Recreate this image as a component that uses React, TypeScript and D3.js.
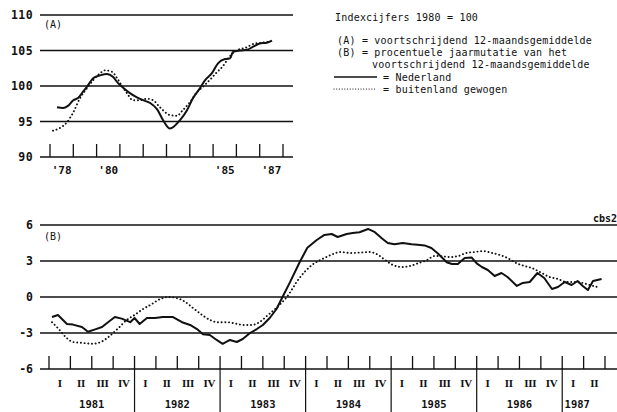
import * as d3 from "d3";

// (A) index 1980 = 100, moving 12-month average
const topNLYears = [1978.3, 1978.56, 1978.77, 1979.0, 1979.2, 1979.42, 1979.63, 1979.85, 1980.15, 1980.45, 1980.7, 1980.92, 1981.13, 1981.43, 1981.73, 1982.0, 1982.3, 1982.6, 1982.85, 1983.15, 1983.58, 1983.88, 1984.14, 1984.44, 1984.65, 1984.95, 1985.21, 1985.51, 1985.73, 1985.85, 1986.15, 1986.45, 1986.7, 1987.0, 1987.3, 1987.53];
const topNL = [97.0, 96.9, 97.2, 98.0, 98.3, 99.2, 100.1, 101.1, 101.5, 101.7, 101.3, 100.4, 99.8, 99.0, 98.4, 98.0, 97.6, 96.7, 95.2, 94.0, 95.2, 96.6, 98.3, 99.7, 100.8, 101.8, 103.2, 103.8, 103.9, 104.8, 105.0, 105.1, 105.5, 106.0, 106.1, 106.4];

const topBLYears = [1978.13, 1978.43, 1978.73, 1979.0, 1979.29, 1979.59, 1979.85, 1980.15, 1980.36, 1980.66, 1980.88, 1981.09, 1981.3, 1981.56, 1981.86, 1982.16, 1982.42, 1982.72, 1983.15, 1983.45, 1983.7, 1984.0, 1984.3, 1984.6, 1984.9, 1985.15, 1985.4, 1985.7, 1986.0, 1986.4, 1986.8, 1987.1, 1987.35];
const topBL = [93.7, 94.1, 94.9, 96.3, 98.3, 99.7, 100.8, 101.8, 102.2, 102.0, 101.1, 100.0, 99.0, 98.0, 98.0, 98.2, 98.0, 97.0, 95.9, 95.8, 96.6, 97.7, 99.1, 100.0, 101.0, 101.9, 102.7, 104.1, 105.0, 105.4, 106.0, 106.1, 106.2];

// (B) year-on-year % change
const botNLYears = [1981.035, 1981.105, 1981.21, 1981.28, 1981.385, 1981.455, 1981.54, 1981.62, 1981.69, 1981.77, 1981.85, 1981.95, 1982.0, 1982.06, 1982.145, 1982.24, 1982.33, 1982.45, 1982.555, 1982.65, 1982.73, 1982.8, 1982.88, 1982.96, 1983.03, 1983.115, 1983.195, 1983.265, 1983.35, 1983.43, 1983.5, 1983.58, 1983.66, 1983.73, 1983.815, 1983.93, 1984.02, 1984.13, 1984.22, 1984.305, 1984.375, 1984.48, 1984.55, 1984.63, 1984.73, 1984.81, 1984.89, 1984.96, 1985.04, 1985.135, 1985.24, 1985.31, 1985.39, 1985.47, 1985.54, 1985.65, 1985.71, 1985.78, 1985.86, 1985.94, 1986.0, 1986.06, 1986.13, 1986.21, 1986.29, 1986.36, 1986.47, 1986.54, 1986.62, 1986.71, 1986.79, 1986.88, 1986.95, 1987.03, 1987.11, 1987.18, 1987.24, 1987.3, 1987.36, 1987.46];
const botNL = [-1.67, -1.5, -2.25, -2.3, -2.5, -2.9, -2.7, -2.5, -2.1, -1.67, -1.8, -2.1, -1.75, -2.25, -1.75, -1.75, -1.67, -1.67, -2.1, -2.33, -2.67, -3.1, -3.17, -3.58, -3.9, -3.58, -3.75, -3.5, -3.0, -2.67, -2.33, -1.75, -1.0, 0, 1.2, 2.9, 4.1, 4.75, 5.17, 5.25, 5.0, 5.25, 5.33, 5.4, 5.67, 5.4, 4.9, 4.5, 4.4, 4.5, 4.4, 4.35, 4.3, 4.08, 3.67, 2.9, 2.75, 2.75, 3.25, 3.3, 2.8, 2.5, 2.25, 1.75, 2.0, 1.67, 0.92, 1.17, 1.25, 2.0, 1.58, 0.67, 0.83, 1.25, 1.0, 1.33, 0.92, 0.58, 1.33, 1.5];

const botBLYears = [1981.035, 1981.105, 1981.19, 1981.28, 1981.4, 1981.51, 1981.62, 1981.71, 1981.81, 1981.91, 1982.0, 1982.1, 1982.2, 1982.3, 1982.39, 1982.5, 1982.59, 1982.68, 1982.79, 1982.88, 1982.97, 1983.08, 1983.17, 1983.27, 1983.37, 1983.46, 1983.56, 1983.66, 1983.78, 1983.93, 1984.08, 1984.22, 1984.32, 1984.4, 1984.52, 1984.63, 1984.75, 1984.83, 1984.93, 1985.02, 1985.12, 1985.22, 1985.31, 1985.42, 1985.51, 1985.59, 1985.68, 1985.78, 1985.88, 1985.98, 1986.07, 1986.18, 1986.27, 1986.36, 1986.47, 1986.56, 1986.65, 1986.76, 1986.85, 1986.95, 1987.05, 1987.14, 1987.24, 1987.32, 1987.41];
const botBL = [-2.1, -2.6, -3.3, -3.75, -3.83, -3.9, -3.7, -3.25, -2.6, -1.9, -1.5, -1.0, -0.6, -0.17, 0, -0.1, -0.4, -0.9, -1.5, -1.9, -2.1, -2.1, -2.2, -2.33, -2.33, -2.1, -1.5, -0.9, 0, 1.6, 2.7, 3.25, 3.58, 3.75, 3.67, 3.7, 3.75, 3.58, 3.08, 2.67, 2.5, 2.58, 2.8, 3.08, 3.42, 3.4, 3.33, 3.4, 3.67, 3.75, 3.83, 3.67, 3.5, 3.25, 2.8, 2.58, 2.4, 2.0, 1.67, 1.5, 1.25, 1.25, 1.17, 1.0, 0.83];

const topYTicks = [90, 95, 100, 105, 110];
const topYearLabels = [1978, 1980, 1985, 1987];
const botYTicks = [-6, -3, 0, 3, 6];
const quarterNames = ["I", "II", "III", "IV"];
const botYears = [1981, 1982, 1983, 1984, 1985, 1986, 1987];

const legendLines = [
  "(A) = voortschrijdend 12-maandsgemiddelde",
  "(B) = procentuele jaarmutatie van het",
];

const MONO = "'DejaVu Sans Mono', monospace";
const INK = "#111";

export default function App() {
  const xTop = d3.scaleLinear().domain([1978, 1988]).range([50, 283]);
  const yTop = d3.scaleLinear().domain([90, 110]).range([157, 15]);
  const xBot = d3.scaleLinear().domain([1981, 1987.5]).range([49, 605]);
  const yBot = d3.scaleLinear().domain([-6, 6]).range([369, 225]);

  const mkLine = (xs: number[], x: any, y: any, curve: any) =>
    d3.line<number>()
      .x((_, i) => x(xs[i]))
      .y((d) => y(d))
      .curve(curve);

  const topNLPath = mkLine(topNLYears, xTop, yTop, d3.curveMonotoneX)(topNL);
  const topBLPath = mkLine(topBLYears, xTop, yTop, d3.curveMonotoneX)(topBL);
  const botNLPath = mkLine(botNLYears, xBot, yBot, d3.curveLinear)(botNL);
  const botBLPath = mkLine(botBLYears, xBot, yBot, d3.curveMonotoneX)(botBL);

  const topTicks = d3.range(1978, 1989);
  const quarterTicks = d3.range(0, 27).map((i) => 1981 + i * 0.25);
  const endYear = xBot.domain()[1];
  const quarterLabels = botYears.flatMap((yr) =>
    quarterNames
      .map((q, i) => ({ q, t: yr + i * 0.25 + 0.125 }))
      .filter((d) => d.t < endYear)
  );

  const solid = { fill: "none", stroke: INK, strokeWidth: 2, strokeLinejoin: "round" as const };
  const dotted = { fill: "none", stroke: INK, strokeWidth: 1.9, strokeDasharray: "0.1 3.6", strokeLinecap: "round" as const };

  return (
    <div style={{ position: "fixed", left: 0, top: 0 }}>
      <svg width={617} height={412} style={{ display: "block", background: "#fff" }}>
        {/* ---------- chart A ---------- */}
        {topYTicks.map((v) => (
          <g key={v}>
            <line x1={40} x2={293} y1={yTop(v)} y2={yTop(v)} stroke={INK} strokeWidth={1.3} />
            <text x={33} y={yTop(v) + 4.3} textAnchor="end" fontFamily={MONO} fontSize={11.5} fontWeight="bold" letterSpacing={0.4} fill={INK}>
              {v}
            </text>
          </g>
        ))}
        {topTicks.map((t) => (
          <line key={t} x1={xTop(t)} x2={xTop(t)} y1={144} y2={yTop(90)} stroke={INK} strokeWidth={1.3} />
        ))}
        {topYearLabels.map((t) => (
          <text key={t} x={xTop(t + 0.5)} y={174} textAnchor="middle" fontFamily={MONO} fontSize={11} fontWeight="bold" fill={INK}>
            {"'" + String(t).slice(2)}
          </text>
        ))}
        <text x={44} y={28} fontFamily={MONO} fontSize={10} fill={INK}>(A)</text>
        <path d={topBLPath ?? ""} {...dotted} />
        <path d={topNLPath ?? ""} {...solid} />

        {/* ---------- legend ---------- */}
        <g fontFamily={MONO} fontSize={10} fill={INK} letterSpacing={0.2}>
          <text x={335} y={20.5}>Indexcijfers 1980 = 100</text>
          {legendLines.map((s, i) => (
            <text key={s} x={337} y={43.5 + i * 12}>{s}</text>
          ))}
          <text x={372} y={67.5}>voortschrijdend 12-maandsgemiddelde</text>
          <text x={383} y={80.5}>= Nederland</text>
          <text x={383} y={92.5}>= buitenland gewogen</text>
        </g>
        <line x1={334} x2={377} y1={77} y2={77} stroke={INK} strokeWidth={1.6} />
        <line x1={334} x2={377} y1={89} y2={89} stroke={INK} strokeWidth={1.2} strokeDasharray="0.1 2.6" strokeLinecap="round" />

        {/* ---------- chart B ---------- */}
        {botYTicks.map((v) => (
          <g key={v}>
            <line x1={40} x2={617} y1={yBot(v)} y2={yBot(v)} stroke={INK} strokeWidth={1.3} />
            <text x={33} y={yBot(v) + 4.3} textAnchor="end" fontFamily={MONO} fontSize={11.5} fontWeight="bold" fill={INK}>
              {v}
            </text>
          </g>
        ))}
        <text x={617} y={222} textAnchor="end" fontFamily={MONO} fontSize={10} fontWeight="bold" fill={INK}>cbs2</text>
        <text x={44} y={240} fontFamily={MONO} fontSize={10} fill={INK}>(B)</text>
        {quarterTicks.map((t) => (
          <line key={t} x1={xBot(t)} x2={xBot(t)} y1={356} y2={yBot(-6)} stroke={INK} strokeWidth={1.3} />
        ))}
        {botYears.slice(1).map((t) => (
          <line key={t} x1={xBot(t)} x2={xBot(t)} y1={yBot(-6)} y2={412} stroke={INK} strokeWidth={1.2} />
        ))}
        {quarterLabels.map((d) => (
          <text key={d.t} x={xBot(d.t)} y={387} textAnchor="middle" fontFamily="'Liberation Serif', serif" fontSize={11} fontWeight="bold" letterSpacing={-0.3} fill={INK}>
            {d.q}
          </text>
        ))}
        {botYears.map((t) => (
          <text key={t} x={t < 1987 ? xBot(t + 0.5) : xBot(t) + 15} y={408} textAnchor="middle" fontFamily={MONO} fontSize={10.5} fontWeight="bold" fill={INK}>
            {t}
          </text>
        ))}
        <path d={botBLPath ?? ""} {...dotted} />
        <path d={botNLPath ?? ""} {...solid} />
      </svg>
    </div>
  );
}
